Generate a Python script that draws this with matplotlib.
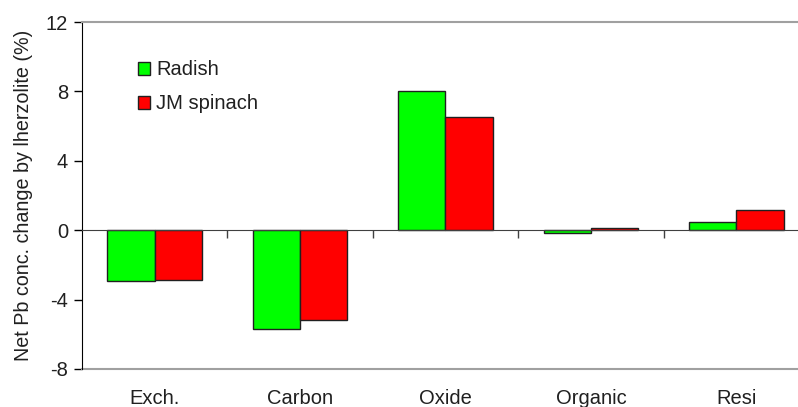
import numpy as np
import matplotlib
matplotlib.use("Agg")
import matplotlib.pyplot as plt
from matplotlib.patches import Patch
from matplotlib.transforms import blended_transform_factory

categories = ["Exch.", "Carbon", "Oxide", "Organic", "Resi"]
radish = [-2.9, -5.7, 8.0, -0.15, 0.46]
jm_spinach = [-2.85, -5.17, 6.5, 0.1, 1.17]
series_names = ["Radish", "JM spinach"]
yticks = [-8, -4, 0, 4, 8, 12]

plt.rcParams['font.family'] = ['Liberation Sans', 'DejaVu Sans']

fig = plt.figure(figsize=(7.98, 4.07), dpi=100)
W, H = 798, 407
left, right, top, bottom = 82, 809, 22, 369
ax = fig.add_axes([left / W, 1 - bottom / H, (right - left) / W, (bottom - top) / H])

x = np.arange(len(categories))
bw = 0.325
ax.bar(x - bw / 2, radish, bw, color="#00ff00", edgecolor="#202020", linewidth=1, label=series_names[0], zorder=3)
ax.bar(x + bw / 2, jm_spinach, bw, color="#ff0000", edgecolor="#202020", linewidth=1, label=series_names[1], zorder=3)

ax.set_xlim(-0.5, len(categories) - 0.5)
ax.set_ylim(-8, 12)
ax.set_yticks(yticks)
ax.set_yticklabels([str(t) for t in yticks], fontsize=14.5, color="#202020")
ax.tick_params(axis="y", direction="out", length=6, width=1, pad=4, color="black")

# bottom spine acts as zero line with boundary ticks
ax.spines['bottom'].set_position(('data', 0))
ax.spines['bottom'].set_color("#404040")
ax.spines['bottom'].set_zorder(4)
ax.set_xticks(np.arange(len(categories) - 1) + 0.5)
ax.set_xticklabels([])
ax.tick_params(axis="x", direction="out", length=6, width=1, color="#404040")

ax.spines['left'].set_color("black")
ax.spines['top'].set_color("#a0a0a0")
ax.spines['top'].set_linewidth(1.5)
ax.spines['right'].set_visible(False)
ax.axhline(-8, color="#a0a0a0", linewidth=1.5, clip_on=False)

trans = blended_transform_factory(ax.transData, ax.transAxes)
for xi, c in zip(x, categories):
    ax.text(xi, -0.085, c, transform=trans, ha="center", va="center", fontsize=14.5, color="#202020")

ax.set_ylabel("Net Pb conc. change by lherzolite (%)", fontsize=14.2, color="#202020")
ax.yaxis.set_label_coords(-0.067, 0.5)

handles = [Patch(facecolor="#00ff00", edgecolor="#202020"), Patch(facecolor="#ff0000", edgecolor="#202020")]
leg = ax.legend(handles, series_names, loc="upper left", bbox_to_anchor=(0.066, 0.913),
                frameon=False, fontsize=14.5, handlelength=0.6, handleheight=0.6,
                handletextpad=0.3, labelspacing=0.75, borderaxespad=0)
for t in leg.get_texts():
    t.set_color("#202020")

fig.savefig("out.png", dpi=100)
